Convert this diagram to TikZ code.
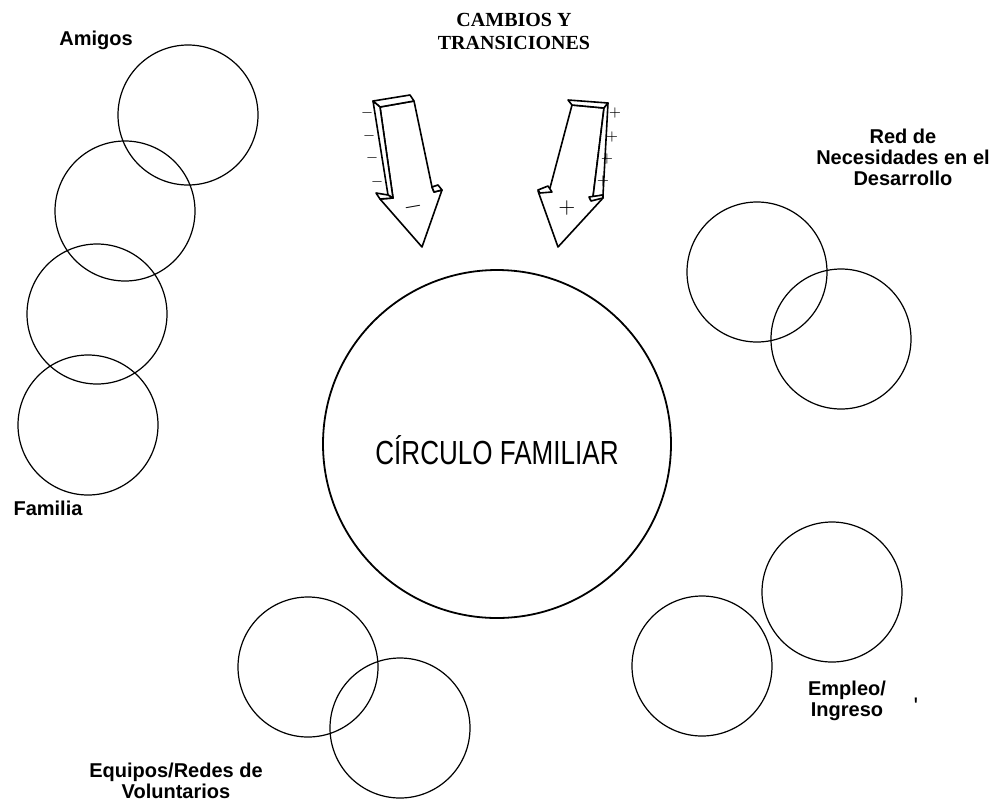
\documentclass[tikz,border=0pt]{standalone}
\usepackage{fontspec}
\setmainfont{Liberation Serif}
\setsansfont{Liberation Sans}
\newfontfamily\narrowsans{Liberation Sans}[FakeStretch=0.78]
\usetikzlibrary{positioning}

\begin{document}
\begin{tikzpicture}[x=0.5pt, y=-0.5pt] %Circulo familiar
	\tikzstyle{ring} = [circle, draw, line width=0.6pt, minimum size=70pt, inner sep=0pt]
	\tikzstyle{bigring} = [circle, draw, line width=0.9pt, minimum size=174pt, inner sep=0pt]
	\tikzstyle{rotulo} = [font=\sffamily\bfseries\fontsize{10}{10.5}\selectfont, align=center, inner sep=0pt]
	\tikzstyle{bloque} = [draw, fill=white, line width=0.8pt, line join=round]
	\tikzstyle{signo} = [font=\sffamily\fontsize{7}{7}\selectfont, inner sep=0pt]
	\useasboundingbox (0,0) rectangle (1002,810);
	% circulo central
	\node[bigring] (familiar) at (497,444) {};
	\node[font=\narrowsans\fontsize{16.7}{18}\selectfont, inner sep=0pt] (titulo) at (497,450) {CÍRCULO FAMILIAR};
	% circulos pequenos
	\foreach \name/\px/\py in {amigosA/188/115, amigosB/125/211, familiaA/97/314, familiaB/88/425, redA/757/272, redB/841/339, empleoA/702/666, empleoB/832/592, equiposA/308/667, equiposB/400/728}
	{
		\node[ring] (\name) at (\px,\py) {};
	}
	% rotulos
	\node[rotulo] (amigos) at (96,40) {Amigos};
	\node[rotulo] (familia) at (48,508) {Familia};
	\node[rotulo] (red) at (903,157) {Red de\\Necesidades en el\\Desarrollo};
	\node[rotulo] (empleo) at (847,701) {Empleo/\\Ingreso};
	\node[rotulo] (equipos) at (176,781) {Equipos/Redes de\\Voluntarios};
	\node[font=\rmfamily\bfseries\fontsize{10}{11.5}\selectfont, align=center, inner sep=0pt] (cambios) at (514,31) {CAMBIOS Y\\TRANSICIONES};
	\node[font=\sffamily\fontsize{12}{12}\selectfont, inner sep=0pt] (marca) at (916,706) {\textquotesingle};
	% flecha negativa
	\draw[bloque] (380,107) -- (414,101) -- (432,187) -- (434,192) -- (442,190) -- (422,247) -- (380,199) -- (393,198) -- cycle;
	\draw[bloque] (373,101) -- (410,95) -- (414,101) -- (380,107) -- cycle;
	\draw[bloque] (373,101) -- (380,107) -- (393,198) -- (388,195) -- cycle;
	\draw[bloque] (376,193) -- (388,195) -- (393,198) -- (380,199) -- cycle;
	\draw[bloque] (432,187) -- (438,185) -- (442,190) -- (434,192) -- cycle;
	% flecha positiva
	\draw[bloque] (572,105) -- (604,108) -- (593,197) -- (603,198) -- (558,247) -- (538,191) -- (550,188) -- cycle;
	\draw[bloque] (568,100) -- (608,103) -- (604,108) -- (572,105) -- cycle;
	\draw[bloque] (604,108) -- (608,103) -- (603,195) -- (593,197) -- cycle;
	\draw[bloque] (589,197) -- (603,195) -- (603,198) -- (591,201) -- cycle;
	\draw[bloque] (538,190) -- (548,186) -- (552,192) -- (540,193) -- cycle;
	% signos
	\foreach \name/\px/\py in {menosA/367/113, menosB/369/136, menosC/372/158, menosD/377/182}
	{
		\node[signo] (\name) at (\px,\py) {$-$};
	}
	\foreach \name/\px/\py in {masA/615/113, masB/612/137, masC/607/159, masD/603/181}
	{
		\node[signo] (\name) at (\px,\py) {$+$};
	}
	\node[font=\fontsize{12}{12}\selectfont, inner sep=0pt, rotate=10] (menos) at (413,207) {$-$};
	\node[font=\fontsize{11}{11}\selectfont, inner sep=0pt] (mas) at (567,208) {$+$};
\end{tikzpicture}
\end{document}
